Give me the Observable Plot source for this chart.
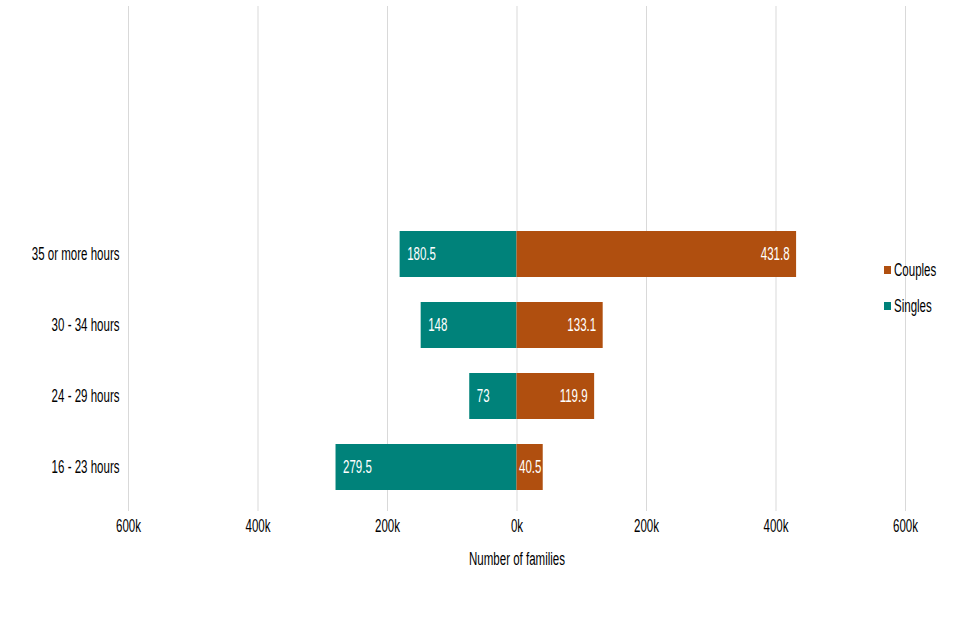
<!DOCTYPE html>
<html><head><meta charset="utf-8">
<script src="https://cdn.jsdelivr.net/npm/d3@7"></script>
<script src="https://cdn.jsdelivr.net/npm/@observablehq/plot@0.6"></script>
<style>
body{margin:0;background:#fff;}
#chart{position:relative;width:960px;height:640px;font-family:"Liberation Sans",Arial,sans-serif;}
.legend{position:absolute;left:884px;top:252px;font-size:18px;color:#000;line-height:36px;}
.legend div{display:flex;align-items:center;height:36px;}
.legend span.sw{display:inline-block;width:7px;height:8px;margin-right:3px;}
.legend span.tx{display:inline-block;transform:scaleX(0.64);transform-origin:left center;}
</style></head><body><div id="chart"></div>
<script>
const categories = ["35 or more hours","30 - 34 hours","24 - 29 hours","16 - 23 hours"];
const singlesValues = [180.5, 148, 73, 279.5];
const couplesValues = [431.8, 133.1, 119.9, 40.5];
const seriesNames = ["Couples","Singles"];
const seriesColors = ["#B04F0F","#00827A"];
const xTicks = [-600,-400,-200,0,200,400,600];
const axisTitle = "Number of families";

const rows = [];
categories.forEach((c,i)=>{
  rows.push({category:c, series:"Singles", value:-singlesValues[i], label:String(singlesValues[i])});
  rows.push({category:c, series:"Couples", value:couplesValues[i], label:String(couplesValues[i])});
});
const singlesRows = rows.filter(d=>d.series==="Singles");
const couplesRows = rows.filter(d=>d.series==="Couples");
const couplesWide = couplesRows.filter(d=>d.value>=60);
const couplesNarrow = couplesRows.filter(d=>d.value<60);

const font = '"Liberation Sans",Arial,sans-serif';
const fs = 18;

const chart = Plot.plot({
  width:960, height:640,
  marginLeft:128, marginRight:55, marginTop:6, marginBottom:129,
  style:{fontFamily:font, fontSize:fs+"px", color:"#000", background:"#fff"},
  x:{domain:[-600,600], ticks:xTicks},
  y:{domain:categories, range:[218.5,503.5], paddingInner:0.35, paddingOuter:0.175},
  color:{domain:seriesNames, range:seriesColors},
  marks:[
    Plot.ruleX(xTicks,{stroke:"#d9d9d9", strokeWidth:1}),
    Plot.barX(rows,{y:"category", x1:0, x2:"value", fill:"series"}),
    Plot.text(singlesRows,{y:"category", x:"value", text:"label", textAnchor:"start", dx:7, fill:"#fff", fontSize:fs}),
    Plot.text(couplesWide,{y:"category", x:"value", text:"label", textAnchor:"end", dx:-7, fill:"#fff", fontSize:fs}),
    Plot.text(couplesNarrow,{y:"category", x:0, text:"label", textAnchor:"start", dx:2, fill:"#fff", fontSize:fs}),
    Plot.axisX({ticks:xTicks, tickSize:0, tickPadding:8, tickFormat:d=>Math.abs(d)+"k", label:null, fontSize:fs}),
    Plot.axisY({tickSize:0, tickPadding:9, label:null, fontSize:fs}),
    Plot.text([axisTitle],{frameAnchor:"bottom", lineAnchor:"middle", dy:48, fontSize:fs, fill:"#000"})
  ]
});
const root = document.getElementById("chart");
root.appendChild(chart);
// emulate the narrow typeface of the original
chart.querySelectorAll("text").forEach(t=>{
  const w = t.getComputedTextLength();
  if (w>0){ t.setAttribute("textLength", (w*0.64).toFixed(2)); t.setAttribute("lengthAdjust","spacingAndGlyphs"); }
});
const lg = document.createElement("div");
lg.className = "legend";
seriesNames.forEach((n,i)=>{
  const r = document.createElement("div");
  const sw = document.createElement("span");
  sw.className="sw"; sw.style.background = seriesColors[i];
  const tx = document.createElement("span");
  tx.className="tx"; tx.textContent = n;
  r.appendChild(sw);
  r.appendChild(tx);
  lg.appendChild(r);
});
root.appendChild(lg);
</script></body></html>
